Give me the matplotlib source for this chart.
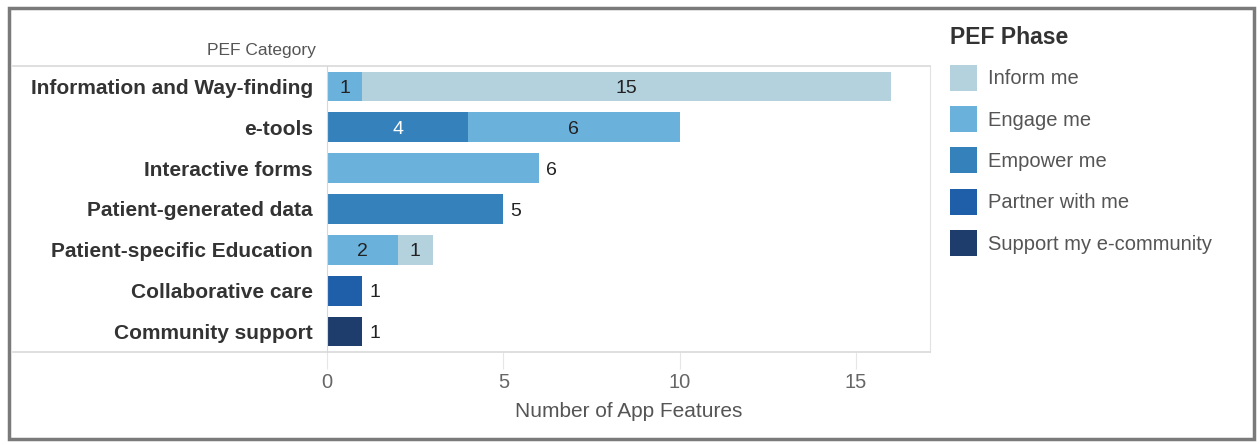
import numpy as np
import matplotlib
matplotlib.use('Agg')
import matplotlib.pyplot as plt
from matplotlib.lines import Line2D
from matplotlib.patches import Rectangle, Patch

plt.rcParams['font.family'] = ['Liberation Sans', 'DejaVu Sans']

categories = ['Information and Way-finding', 'e-tools', 'Interactive forms',
              'Patient-generated data', 'Patient-specific Education',
              'Collaborative care', 'Community support']
phases = ['Inform me', 'Engage me', 'Empower me', 'Partner with me',
          'Support my e-community']
inform = [15, 0, 0, 0, 1, 0, 0]
engage = [1, 6, 6, 0, 2, 0, 0]
empower = [0, 4, 0, 5, 0, 0, 0]
partner = [0, 0, 0, 0, 0, 1, 0]
support = [0, 0, 0, 0, 0, 0, 1]
colors = ['#b3d2de', '#6ab2dc', '#3581bb', '#1f5ea8', '#1f3d6c']
label_colors = ['#222222', '#222222', 'white', 'white', 'white']
xticks = [0, 5, 10, 15]

series = [inform, engage, empower, partner, support]
W, H = 1260, 445
fig = plt.figure(figsize=(W / 100, H / 100), dpi=100)
ax = fig.add_axes([327 / W, 1 - 352 / H, (930 - 327) / W, (352 - 66) / H])

y = np.arange(len(categories))
data = np.array(series, dtype=float)
# stack from darkest (left) to lightest (right)
order = [4, 3, 2, 1, 0]
left = np.zeros(len(categories))
nseg = (data > 0).sum(axis=0)
for k in order:
    vals = data[k]
    ax.barh(y, vals, left=left, height=0.73, color=colors[k], edgecolor='none')
    for i, v in enumerate(vals):
        if v <= 0:
            continue
        if nseg[i] > 1:
            ax.text(left[i] + v / 2, y[i], f'{int(v)}', ha='center',
                    va='center_baseline', fontsize=14, color=label_colors[k])
        else:
            ax.text(left[i] + v + 0.2, y[i], f'{int(v)}', ha='left',
                    va='center_baseline', fontsize=14, color='#222222')
    left += vals

ax.set_xlim(0, 17.1)
ax.set_ylim(len(categories) - 0.5, -0.5)
ax.set_yticks(y)
ax.set_yticklabels(categories, fontsize=15, fontweight='bold', color='#333333')
ax.set_xticks(xticks)
ax.set_xticklabels([str(t) for t in xticks], fontsize=14.5, color='#666666')
ax.tick_params(axis='y', length=0, pad=10)
ax.tick_params(axis='x', length=12, color='#e6e6e6', pad=3)
ax.set_xlabel('Number of App Features', fontsize=15, color='#555555', labelpad=7)

for s in ['top', 'bottom']:
    ax.spines[s].set_visible(False)
ax.spines['left'].set_color('#d8d8d8')
ax.spines['right'].set_color('#e2e2e2')

# header/footer rules spanning the label column
for yy in [66, 352]:
    fig.add_artist(Line2D([13 / W, 930 / W], [1 - yy / H, 1 - yy / H],
                          transform=fig.transFigure, color='#d9d9d9', lw=1.2))

fig.text(316 / W, 1 - 50 / H, 'PEF Category', ha='right', va='center',
         fontsize=12.5, color='#555555')

# outer frame
fig.add_artist(Rectangle((9 / W, 6 / H), (1254 - 9) / W, (437 - 6) / H,
                         transform=fig.transFigure, fill=False,
                         edgecolor='#7a7a7a', lw=2.5))

handles = [Patch(facecolor=c, edgecolor='none') for c in colors]
leg = fig.legend(handles, phases, loc='upper left',
                 bbox_to_anchor=(932 / W, 1 - 8 / H), frameon=False,
                 title='PEF Phase', fontsize=14.5, handlelength=1.35,
                 handleheight=1.6, labelspacing=0.77, handletextpad=0.55,
                 alignment='left')
leg.get_title().set_fontsize(16.5)
leg.get_title().set_fontweight('bold')
leg.get_title().set_color('#333333')
for t in leg.get_texts():
    t.set_color('#555555')

fig.savefig('out.png', dpi=100, facecolor='white')
